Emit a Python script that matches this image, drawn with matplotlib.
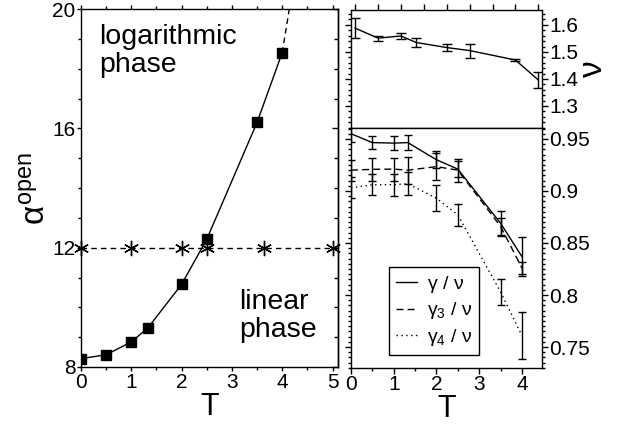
import matplotlib
matplotlib.use("Agg")
import matplotlib.pyplot as plt
from matplotlib.ticker import MultipleLocator

plt.rcParams['font.family'] = ['Liberation Sans', 'DejaVu Sans']
plt.rcParams['mathtext.fontset'] = 'custom'
plt.rcParams['mathtext.rm'] = 'Liberation Sans'
plt.rcParams['mathtext.it'] = 'Liberation Sans'
plt.rcParams['mathtext.bf'] = 'Liberation Sans'
plt.rcParams['axes.linewidth'] = 1.0

# left panel: alpha^open vs T
T = [0, 0.5, 1, 1.33, 2, 2.5, 3.5, 4]
alpha_open = [8.28, 8.41, 8.84, 9.31, 10.77, 12.28, 16.2, 18.54]
T_ext = [4.0, 4.17]
alpha_ext = [18.54, 20.3]
T_star = [0, 1, 2, 2.5, 3.63, 5]
alpha_star = [12, 12, 12, 12, 12, 12]

# right top: nu
nu = [1.588, 1.551, 1.559, 1.535, 1.516, 1.505, 1.470, 1.396]
nu_err = [0.036, 0.009, 0.012, 0.016, 0.012, 0.026, 0.005, 0.031]

# right bottom: gamma / nu ratios
g_nu = [0.955, 0.9465, 0.946, 0.9465, 0.930, 0.921, 0.869, 0.837]
g_nu_err = [0.008, 0.006, 0.0064, 0.0072, 0.008, 0.0075, 0.012, 0.019]
g3_nu = [0.920, 0.9208, 0.921, 0.920, 0.9234, 0.920, 0.866, 0.826]
g3_nu_err = [0.010, 0.011, 0.011, 0.013, 0.013, 0.011, 0.008, 0.006]
g4_nu = [0.903, 0.906, 0.906, 0.907, 0.893, 0.877, 0.803, 0.761]
g4_nu_err = [0.010, 0.010, 0.0105, 0.011, 0.0125, 0.0105, 0.0125, 0.0225]

fig = plt.figure(figsize=(6.18, 4.25), dpi=100)
ax1 = fig.add_axes([0.131, 0.1365, 0.416, 0.842])
ax2 = fig.add_axes([0.568, 0.699, 0.309, 0.278])
ax3 = fig.add_axes([0.568, 0.134, 0.309, 0.565])

tick_kw = dict(direction='out', width=1.0, labelsize=15)

# ---- left panel
ax1.plot(T, alpha_open, '-', color='k', lw=1.0, marker='s', ms=7.5, zorder=3)
ax1.plot(T_ext, alpha_ext, '--', color='k', lw=1.0, dashes=(4, 3))
ax1.plot(T_star, alpha_star, '--', color='k', lw=1.0, dashes=(4, 3),
         marker=(6, 2, 0), ms=11, mew=1.0, clip_on=False, zorder=4)
ax1.set_xlim(0, 5.11)
ax1.set_ylim(8, 20)
ax1.xaxis.set_major_locator(MultipleLocator(1))
ax1.xaxis.set_minor_locator(MultipleLocator(0.5))
ax1.yaxis.set_major_locator(MultipleLocator(4))
ax1.yaxis.set_minor_locator(MultipleLocator(1))
ax1.tick_params(which='both', top=True, right=False, **tick_kw)
ax1.tick_params(which='major', length=3, pad=1)
ax1.tick_params(which='minor', length=2)
ax1.set_xlabel('T', fontsize=22, labelpad=0)
ax1.set_ylabel(r'$\alpha^{\mathrm{open}}$', fontsize=24, labelpad=0)
ax1.text(0.36, 19.5, 'logarithmic\nphase', fontsize=20.5, va='top', ha='left',
         linespacing=1.1)
ax1.text(3.15, 10.6, 'linear\nphase', fontsize=20.5, va='top', ha='left',
         linespacing=1.1)
# inward ticks on the right spine
axr = ax1.secondary_yaxis('right')
axr.yaxis.set_major_locator(MultipleLocator(4))
axr.yaxis.set_minor_locator(MultipleLocator(1))
axr.tick_params(which='both', direction='in', labelright=False, width=1.0)
axr.tick_params(which='major', length=4)
axr.tick_params(which='minor', length=3)

# ---- right top panel
ax2.plot(T, nu, '-', color='k', lw=1.0)
ax2.errorbar(T, nu, yerr=nu_err, fmt='none', ecolor='k', elinewidth=1.0,
             capsize=3.3, capthick=1.0)
ax2.set_xlim(-0.09, 4.08)
ax2.set_ylim(1.2185, 1.656)
ax2.xaxis.set_major_locator(MultipleLocator(0.5))
ax2.yaxis.set_major_locator(MultipleLocator(0.1))
ax2.yaxis.set_minor_locator(MultipleLocator(0.02))
ax2.tick_params(which='both', left=True, right=True, top=True, bottom=False,
                labelleft=False, labelright=True, labelbottom=False, **tick_kw)
ax2.tick_params(which='major', length=4, pad=1)
ax2.tick_params(which='minor', length=2.5)
ax2.yaxis.set_label_position('right')
ax2.set_ylabel(r'$\nu$', fontsize=24, rotation=90, labelpad=0)

# ---- right bottom panel
ax3.plot(T, g_nu, '-', color='k', lw=1.0, label=r'$\gamma$ / $\nu$')
ax3.plot(T, g3_nu, '--', color='k', lw=1.0, dashes=(5, 3),
         label=r'$\gamma_3$ / $\nu$')
ax3.plot(T, g4_nu, color='k', lw=1.0, linestyle=(0, (1, 2.5)),
         label=r'$\gamma_4$ / $\nu$')
for vals, errs in [(g_nu, g_nu_err), (g3_nu, g3_nu_err), (g4_nu, g4_nu_err)]:
    ax3.errorbar(T, vals, yerr=errs, fmt='none', ecolor='k', elinewidth=1.0,
                 capsize=3.0, capthick=1.0)
ax3.set_xlim(0, 4.47)
ax3.set_ylim(0.7298, 0.9606)
ax3.xaxis.set_major_locator(MultipleLocator(1))
ax3.xaxis.set_minor_locator(MultipleLocator(0.5))
ax3.yaxis.set_major_locator(MultipleLocator(0.05))
ax3.yaxis.set_minor_locator(MultipleLocator(0.005))
ax3.yaxis.set_major_formatter(lambda v, p: f'{v:.2f}'.rstrip('0'))
ax3.tick_params(which='both', left=True, right=True, top=False, bottom=True,
                labelleft=False, labelright=True, **tick_kw)
ax3.tick_params(which='major', length=4, pad=1)
ax3.tick_params(which='minor', length=2.5)
ax3.set_xlabel('T', fontsize=22, labelpad=0)
leg = ax3.legend(loc='lower left', bbox_to_anchor=(0.2, 0.054), fontsize=14,
                 frameon=True, fancybox=False, edgecolor='k', framealpha=1,
                 handlelength=1.1, handletextpad=0.5, borderpad=0.35,
                 labelspacing=0.3, borderaxespad=0)
leg.get_frame().set_linewidth(1.0)

fig.savefig('out.png', dpi=100)
